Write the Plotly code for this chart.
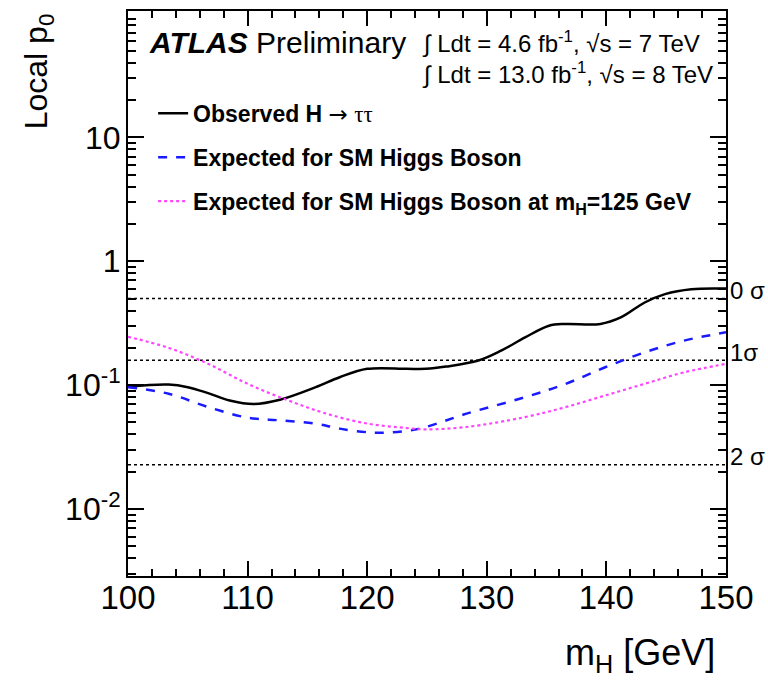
import math
import plotly.graph_objects as go

# ---- data ----
mass_obs = [100, 103.4, 105, 106.7, 108.5, 110.5, 112.7, 115.7, 117.7, 120, 123.3, 124.9,
            126.6, 129.3, 131.2, 133.2, 135.2, 136.6, 139.5, 141.2, 143.2, 144.9, 147.1, 150]
p_obs = [0.0977, 0.1013, 0.0964, 0.0863, 0.0753, 0.0705, 0.0763, 0.0964, 0.116, 0.1355, 0.1355, 0.1355,
         0.1414, 0.158, 0.190, 0.243, 0.302, 0.312, 0.312, 0.352, 0.465, 0.543, 0.595, 0.602]

mass_exp = [100, 103.4, 106.7, 110, 112.7, 115.7, 117.7, 120.6, 123.3, 124.9, 128.3, 133.2,
            136.6, 139.9, 143.2, 146.5, 150]
p_exp = [0.0964, 0.0853, 0.0666, 0.0547, 0.052, 0.049, 0.0446, 0.0414, 0.0427, 0.046, 0.0589, 0.080,
         0.1026, 0.1396, 0.184, 0.229, 0.267]

mass_exp125 = [100, 103.4, 106.7, 110, 113.4, 116.6, 120, 123.3, 124.9, 128.3, 133.2, 136.6,
               139.9, 143.2, 146.5, 150]
p_exp125 = [0.246, 0.200, 0.1486, 0.1026, 0.0753, 0.0589, 0.049, 0.0451, 0.044, 0.046, 0.0553, 0.0666,
            0.0826, 0.1026, 0.127, 0.1486]

sigma_labels = ["0 σ", "1σ", "2 σ"]
sigma_p = [0.5, 0.1587, 0.02275]
mass_range = [100, 150]

y_tickvals = [0.01, 0.1, 1, 10]
y_ticktext = ["10<sup>-2</sup>", "10<sup>-1</sup>", "1", "10"]
y_minor = [m * 10.0 ** e for e in (-3, -2, -1, 0, 1) for m in range(2, 10)]

FONT = "Liberation Sans, Arial, Helvetica, sans-serif"
ARROW = '<span style="font-family:DejaVu Sans;font-weight:normal">→</span>'
TAU = '<span style="font-family:Liberation Serif;font-weight:normal">ττ</span>'

fig = go.Figure()

for p in sigma_p:
    fig.add_trace(go.Scatter(x=mass_range, y=[p, p], mode="lines",
                             line=dict(color="black", width=1.5, dash="dot"),
                             showlegend=False, hoverinfo="skip"))

fig.add_trace(go.Scatter(x=mass_obs, y=p_obs, mode="lines", line_shape="spline",
                         line=dict(color="black", width=2.5),
                         name="<b>Observed H</b> " + ARROW + " " + TAU, legendgroup="a"))
fig.add_trace(go.Scatter(x=mass_exp, y=p_exp, mode="lines", line_shape="spline",
                         line=dict(color="#1a1aff", width=2.5, dash="dash"),
                         name="<b>Expected for SM Higgs Boson</b>", legendgroup="b"))
fig.add_trace(go.Scatter(x=mass_exp125, y=p_exp125, mode="lines", line_shape="spline",
                         line=dict(color="#ff44ff", width=2.2, dash="dot"),
                         name="<b>Expected for SM Higgs Boson at m<sub>H</sub>=125 GeV</b>",
                         legendgroup="c"))

annotations = [
    dict(text="<b><i>ATLAS</i></b> Preliminary", x=0.032, y=0.945, xref="paper", yref="paper",
         xanchor="left", yanchor="middle", showarrow=False, font=dict(size=30, color="black")),
    dict(text="∫ Ldt = 4.6 fb<sup>-1</sup>, √s = 7 TeV", x=0.488, y=0.945, xref="paper", yref="paper",
         xanchor="left", yanchor="middle", showarrow=False, font=dict(size=24, color="black")),
    dict(text="∫ Ldt = 13.0 fb<sup>-1</sup>, √s = 8 TeV", x=0.488, y=0.889, xref="paper", yref="paper",
         xanchor="left", yanchor="middle", showarrow=False, font=dict(size=24, color="black")),
    dict(text="Local p<sub>0</sub>", x=-0.150, y=1.0, xref="paper", yref="paper", textangle=-90,
         xanchor="center", yanchor="top", showarrow=False, font=dict(size=32, color="black")),
    dict(text="m<sub>H</sub> [GeV]", x=0.985, y=-0.139, xref="paper", yref="paper",
         xanchor="right", yanchor="middle", showarrow=False, font=dict(size=36, color="black")),
]
for lab, p in zip(sigma_labels, sigma_p):
    annotations.append(dict(text=lab, x=1.0, y=math.log10(p), xref="paper", yref="y",
                            xanchor="left", yanchor="middle", yshift=8, xshift=2, showarrow=False,
                            font=dict(size=24, color="black")))

fig.update_layout(
    width=768, height=680,
    margin=dict(l=128, r=42, t=9, b=104),
    paper_bgcolor="white", plot_bgcolor="white",
    font=dict(family=FONT, color="black"),
    showlegend=True,
    legend=dict(x=0.042, y=0.857, xanchor="left", yanchor="top", bgcolor="rgba(0,0,0,0)",
                font=dict(size=23, color="black"), tracegroupgap=11, itemwidth=30),
    annotations=annotations,
    xaxis=dict(range=mass_range, dtick=10, tick0=100, showgrid=False, zeroline=False,
               showline=True, linecolor="black", linewidth=2, mirror="ticks",
               ticks="inside", ticklen=15, tickwidth=1.5, tickcolor="black",
               tickfont=dict(size=33, color="black"), ticklabelstandoff=-9,
               minor=dict(dtick=2, ticks="inside", ticklen=7, tickwidth=1.5, tickcolor="black",
                          showgrid=False)),
    yaxis=dict(type="log", range=[-2.54, 2.02], tickvals=y_tickvals, ticktext=y_ticktext,
               showgrid=False, zeroline=False,
               showline=True, linecolor="black", linewidth=2, mirror="ticks",
               ticks="inside", ticklen=16, tickwidth=1.5, tickcolor="black",
               tickfont=dict(size=32, color="black"), ticklabelstandoff=-1,
               minor=dict(tickvals=y_minor, ticks="inside", ticklen=8, tickwidth=1.5,
                          tickcolor="black", showgrid=False)),
)

# remove the page's default body margin so the 768x680 figure fills the window exactly
fig.write_html("out.html", config={"displayModeBar": False},
               post_script="document.body.style.margin='0';")
